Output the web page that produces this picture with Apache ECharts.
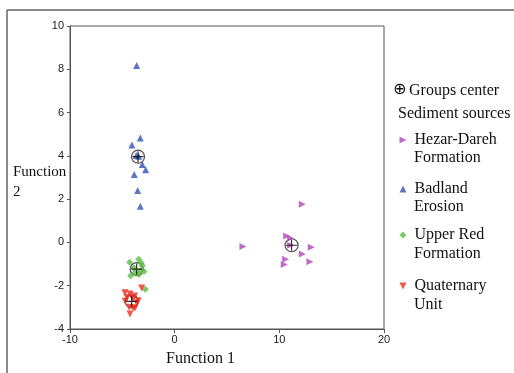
<!DOCTYPE html>
<html><head><meta charset="utf-8">
<script src="https://cdn.jsdelivr.net/npm/echarts@6/dist/echarts.min.js"></script>
<style>html,body{margin:0;padding:0;background:#fff}#c{width:514px;height:373px}</style>
</head><body><div id="c"></div>
<script>
var xTicks = [-10, 0, 10, 20];
var yTicks = [-4, -2, 0, 2, 4, 6, 8, 10];

var hezarX = [6.52, 12.19, 10.70, 11.08, 11.08, 13.05, 12.19, 10.60, 10.47, 12.92];
var hezarY = [-0.19, 1.76, 0.30, 0.19, -0.13, -0.22, -0.53, -0.78, -1.02, -0.89];

var badlandX = [-3.63, -3.28, -4.08, -3.67, -3.44, -3.09, -2.77, -3.86, -3.53, -3.28];
var badlandY = [8.18, 4.83, 4.50, 4.02, 3.98, 3.60, 3.36, 3.14, 2.40, 1.67];

var upperX = [-4.30, -3.44, -3.20, -3.09, -3.89, -2.93, -3.30, -3.79, -4.20, -3.41, -2.80];
var upperY = [-0.92, -0.78, -0.95, -1.08, -1.17, -1.34, -1.31, -1.40, -1.54, -1.48, -2.16];

var quatX = [-4.75, -4.27, -3.82, -4.72, -3.48, -4.34, -3.95, -4.27, -3.63, -3.15, -4.55, -4.00, -3.79];
var quatY = [-2.33, -2.38, -2.47, -2.72, -2.69, -3.00, -3.03, -3.31, -2.80, -2.10, -2.55, -2.60, -3.03];

var centerX = [11.17, -3.50, -3.63, -4.11];
var centerY = [-0.13, 3.96, -1.23, -2.72];

var names = ['Hezar-Dareh Formation', 'Badland Erosion', 'Upper Red Formation', 'Quaternary Unit'];
var firstLines = ['Hezar-Dareh', 'Badland', 'Upper Red', 'Quaternary'];
var secondLines = ['Formation', 'Erosion', 'Formation', 'Unit'];
var colors = ['#b048b8', '#3553b3', '#5cbc44', '#ee2a1e'];

function pairs(xs, ys) { return xs.map(function (x, i) { return [x, ys[i]]; }); }

var serif = 'Liberation Serif';
var chart = echarts.init(document.getElementById('c'));

var series = [
  { name: 'centerCircle', type: 'scatter', data: pairs(centerX, centerY), symbol: 'circle', symbolSize: 13,
    itemStyle: { color: 'rgba(0,0,0,0)', borderColor: '#222', borderWidth: 1.2 }, z: 1, silent: true },
  { name: names[0], type: 'scatter', data: pairs(hezarX, hezarY), symbol: 'triangle', symbolRotate: -90, symbolSize: 7,
    itemStyle: { color: colors[0] }, z: 2 },
  { name: names[1], type: 'scatter', data: pairs(badlandX, badlandY), symbol: 'triangle', symbolSize: 7,
    itemStyle: { color: colors[1] }, z: 2 },
  { name: names[2], type: 'scatter', data: pairs(upperX, upperY), symbol: 'diamond', symbolSize: 7,
    itemStyle: { color: colors[2] }, z: 2 },
  { name: names[3], type: 'scatter', data: pairs(quatX, quatY), symbol: 'triangle', symbolRotate: 180, symbolSize: 7,
    itemStyle: { color: colors[3] }, z: 2 },
  { name: 'centerPlus', type: 'scatter', data: pairs(centerX, centerY), symbol: 'path://M5,0L5,10M0,5L10,5', symbolSize: 11,
    itemStyle: { color: 'none', borderColor: '#000', borderWidth: 1.2 }, z: 3, silent: true }
];

var legendIcons = ['path://M0,0L10,5L0,10Z', 'triangle', 'diamond', 'path://M0,0L10,0L5,10Z'];
var legendTops = [132, 181, 227, 278];
var secondTops = [158, 207, 254, 305];

var legends = names.map(function (n, i) {
  return {
    data: [{ name: n, icon: legendIcons[i] }], left: 399.5, top: legendTops[i], orient: 'vertical',
    padding: 0, itemWidth: 7, itemHeight: 7, itemGap: 0, selectedMode: false,
    formatter: function () { return firstLines[i]; },
    textStyle: { fontFamily: serif, fontSize: 16, color: '#111', padding: [0, 0, 0, 3] }
  };
});

var graphics = [
  { type: 'line', shape: { x1: 7, y1: 10, x2: 514, y2: 10 }, style: { stroke: '#666', lineWidth: 1.5 } },
  { type: 'line', shape: { x1: 7, y1: 10, x2: 7, y2: 373 }, style: { stroke: '#666', lineWidth: 1.5 } },
  { type: 'text', left: 13, top: 162, style: { text: 'Function\n2', font: '15px "Liberation Serif"', fill: '#111', lineHeight: 20 } },
  { type: 'text', left: 166, top: 351, style: { text: 'Function 1', font: '16px "Liberation Serif"', fill: '#111' } },
  { type: 'text', left: 393, top: 82, style: { text: '\u2295', font: '16px "DejaVu Sans"', fill: '#111' } },
  { type: 'text', left: 409, top: 83, style: { text: 'Groups center', font: '16px "Liberation Serif"', fill: '#111' } },
  { type: 'text', left: 398, top: 106, style: { text: 'Sediment sources', font: '16px "Liberation Serif"', fill: '#111' } }
];
secondLines.forEach(function (s, i) {
  graphics.push({ type: 'text', left: 414, top: secondTops[i] - 8, style: { text: s, font: '16px "Liberation Serif"', fill: '#111' } });
});

chart.setOption({
  animation: false,
  backgroundColor: '#fff',
  grid: { left: 70, top: 26, width: 314, height: 303, show: true, borderColor: '#555', borderWidth: 1, backgroundColor: 'transparent' },
  xAxis: {
    type: 'value', min: xTicks[0], max: xTicks[xTicks.length - 1], interval: 10,
    axisLine: { onZero: false, lineStyle: { color: '#555', width: 1 } },
    axisTick: { show: true, length: 4, lineStyle: { color: '#555' } },
    axisLabel: { fontFamily: 'Liberation Sans', fontSize: 11, color: '#222', margin: 5 },
    splitLine: { show: false }
  },
  yAxis: {
    type: 'value', min: yTicks[0], max: yTicks[yTicks.length - 1], interval: 2,
    axisLine: { onZero: false, lineStyle: { color: '#555', width: 1 } },
    axisTick: { show: true, length: 3, lineStyle: { color: '#555' } },
    axisLabel: { fontFamily: 'Liberation Sans', fontSize: 11, color: '#222', margin: 6 },
    splitLine: { show: false }
  },
  legend: legends,
  graphic: graphics,
  series: series
});
</script></body></html>
